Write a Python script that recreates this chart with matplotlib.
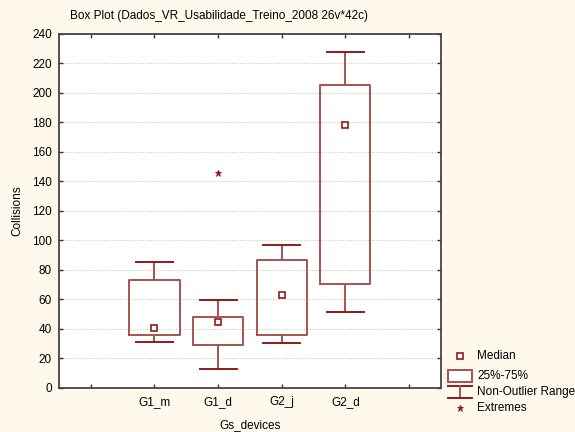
import numpy as np
import matplotlib as mpl
mpl.use( 'Agg' )
import matplotlib.pyplot as plt
from matplotlib.patches import Rectangle
from matplotlib.lines import Line2D

## data
groups = [ 'G1_m', 'G1_d', 'G2_j', 'G2_d' ]
medians = [ 40.5, 44.5, 63, 178.3 ]
q1 = [ 36, 29, 36, 70.7 ]
q3 = [ 73, 48.4, 87, 205.4 ]
whis_lo = [ 31.4, 12.9, 30.5, 51.5 ]
whis_hi = [ 85.4, 59.9, 97.2, 227.8 ]
extremes = [ [], [ 146 ], [], [] ]

mpl.rcParams[ 'font.family' ] = [ 'Liberation Sans', 'DejaVu Sans' ]
mpl.rcParams[ 'font.size' ] = 8.5

bg = '#fef9ec'
col = '#8e1b1b'
box_col = '#a65353'

fig = plt.figure( figsize = ( 5.75, 4.32 ), dpi = 100, facecolor = bg )
ax = fig.add_axes( [ 0.1026, 0.1019, 0.664, 0.8194 ] )
ax.set_facecolor( 'white' )

pos = np.arange( 2, 2 + len( groups ) )
stats = []
for i, g in enumerate( groups ):
    stats.append( dict( label = g, med = medians[ i ], q1 = q1[ i ], q3 = q3[ i ],
        whislo = whis_lo[ i ], whishi = whis_hi[ i ], fliers = extremes[ i ] ) )

ax.bxp( stats, positions = pos, widths = 0.79, showfliers = True,
    boxprops = dict( color = box_col, linewidth = 1.4 ),
    whiskerprops = dict( color = box_col, linewidth = 1.4 ),
    capprops = dict( color = col, linewidth = 1.4 ),
    capwidths = 0.58,
    medianprops = dict( linestyle = 'none' ),
    flierprops = dict( marker = '*', markersize = 5, markeredgecolor = col,
        markerfacecolor = col, markeredgewidth = 0.6 ) )

# median squares
ax.plot( pos, medians, linestyle = 'none', marker = 's', markersize = 4,
    markerfacecolor = 'white', markeredgecolor = col, mew = 1.2, zorder = 4 )

ax.set_xlim( 0.5, 6.5 )
ax.set_ylim( 0, 240 )
ax.set_xticks( np.arange( 1, 7 ) )
ax.set_xticklabels( [ '' ] + groups + [ '' ] )
ax.set_yticks( np.arange( 0, 241, 20 ) )
ax.tick_params( direction = 'in', length = 3, width = 1, color = '#333333',
    top = True, right = True, labelsize = 8.5, pad = 5 )
ax.tick_params( axis = 'x', pad = 6 )
ax.yaxis.grid( True, linestyle = ( 0, ( 1, 1.5 ) ), color = '#c8c8c8', linewidth = 0.8 )
ax.set_axisbelow( True )
for s in ax.spines.values():
    s.set_color( '#444444' )
    s.set_linewidth( 1.3 )

ax.set_xlabel( 'Gs_devices', labelpad = 8, fontsize = 8.5 )
ax.set_ylabel( 'Collisions', labelpad = 6, fontsize = 8.5 )
fig.text( 0.122, 0.964, 'Box Plot (Dados_VR_Usabilidade_Treino_2008 26v*42c)',
    fontsize = 8.5, ha = 'left', va = 'center' )

# legend drawn beside the axes
lx, tx = 460 / 575, 477 / 575
fy = lambda y: 1 - y / 432
fig.add_artist( Line2D( [ lx ], [ fy( 356 ) ], marker = 's', markersize = 4,
    markerfacecolor = 'white', markeredgecolor = col, mew = 1.2, linestyle = 'none' ) )
fig.add_artist( Rectangle( ( 448 / 575, fy( 382 ) ), 24 / 575, 12 / 432,
    facecolor = 'white', edgecolor = box_col, linewidth = 1.4 ) )
fig.add_artist( Line2D( [ 448 / 575, 472 / 575 ], [ fy( 386 ), fy( 386 ) ], color = col, linewidth = 1.4 ) )
fig.add_artist( Line2D( [ lx, lx ], [ fy( 386 ), fy( 398 ) ], color = box_col, linewidth = 1.4 ) )
fig.add_artist( Line2D( [ 448 / 575, 472 / 575 ], [ fy( 398 ), fy( 398 ) ], color = col, linewidth = 1.4 ) )
fig.add_artist( Line2D( [ lx ], [ fy( 408 ) ], marker = '*', markersize = 5,
    markerfacecolor = col, markeredgecolor = col, mew = 0.6, linestyle = 'none' ) )
for y, t in zip( [ 356, 376, 392, 408 ], [ 'Median', '25%-75%', 'Non-Outlier Range', 'Extremes' ] ):
    fig.text( tx, fy( y ), t, fontsize = 8.5, ha = 'left', va = 'center' )

fig.savefig( 'out.png', dpi = 100, facecolor = bg )
